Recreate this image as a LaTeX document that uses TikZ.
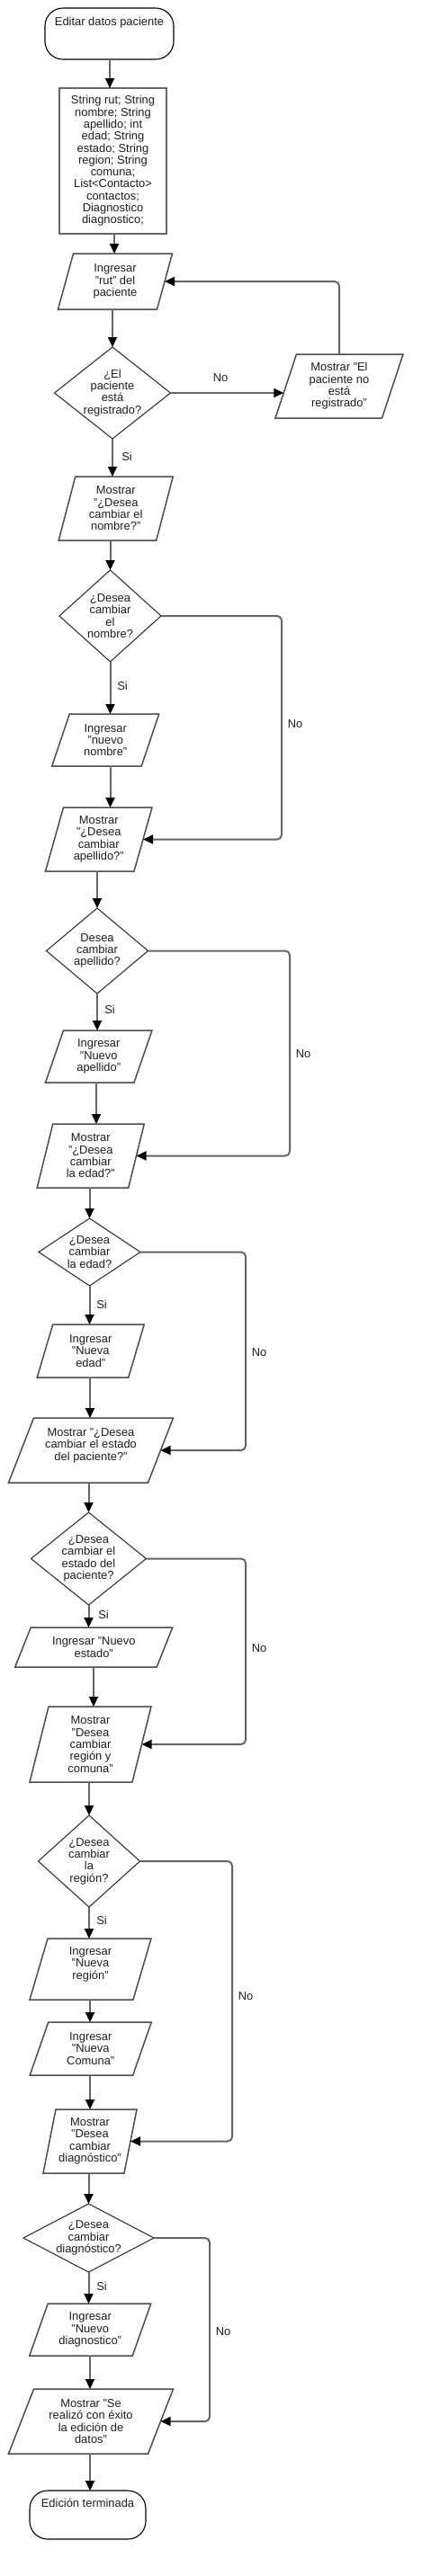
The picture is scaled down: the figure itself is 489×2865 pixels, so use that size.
\documentclass[tikz,border=0pt]{standalone}
\usepackage{fontspec}
\setmainfont{Liberation Sans}
\usetikzlibrary{arrows.meta}
\newcommand\dfont{\fontsize{12.9pt}{13.3pt}\selectfont}
\definecolor{conncol}{HTML}{666666}
\definecolor{pcol}{HTML}{4D4D4D}
\definecolor{txtcol}{HTML}{1E1E1E}
% parallelogram: name, cx, top, bottom, mid-width, slant, text
\newcommand\pgram[7]{%
  \node[ptext, minimum width=#5, minimum height={#4-#3}] (#1) at (#2,{(#3+#4)/2}) {#7};
  \draw[pshape] ({#2-#5/2+#6/2},#3) -- ({#2+#5/2+#6/2},#3) -- ({#2+#5/2-#6/2},#4) -- ({#2-#5/2-#6/2},#4) -- cycle;
}
% decision: name, cx, top, bottom, width, text
\newcommand\dmd[6]{%
  \node[dtext, minimum width=#5, minimum height={#4-#3}] (#1) at (#2,{(#3+#4)/2}) {#6};
  \draw[dshape] (#1.north) -- (#1.east) -- (#1.south) -- (#1.west) -- cycle;
}
\newcommand\vconn[3]{\path (#3,0) coordinate (vx); \draw[conn] (#1.south -| vx) -- (#2.north -| vx);}
\newcommand\noconn[3]{\path (#3,0) coordinate (vx); \draw[conn, rounded corners=5pt] (#1.east) -- (#1.east -| vx) -- (vx |- #2.east) -- (#2.east);}
\tikzset{
  base/.style={font=\dfont, text=txtcol, align=center, inner sep=0pt, outer sep=0pt},
  ptext/.style={base},
  pshape/.style={draw=pcol, line width=1.5pt, line join=miter},
  dtext/.style={base},
  dshape/.style={draw=black!80, line width=1.1pt},
  term/.style={base, draw=black, line width=1.1pt, rounded corners=20pt},
  vbox/.style={base, draw=conncol, line width=2pt},
  conn/.style={draw=conncol, line width=2pt, -{Triangle[length=11pt,width=10pt,color=black]}},
  lbl/.style={font=\dfont, text=txtcol, inner sep=0pt},
}
\begin{document}
\begin{tikzpicture}[x=1pt,y=-1pt]
\useasboundingbox[fill=white] (0,0) rectangle (489,2865);
% nodes
\node[term, minimum width=143, minimum height=57] (start) at (121.5,37.5) {Editar datos paciente\\ ~\\ ~};
\node[vbox, minimum width=119, minimum height=162] (vars) at (125.5,179) {String rut; String\\nombre; String\\apellido; int\\edad; String\\estado; String\\region; String\\comuna;\\List<Contacto>\\contactos;\\Diagnostico\\diagnostico;};
\pgram{inrut}{128}{282}{344}{110}{17}{Ingresar\\"rut" del\\paciente}
\dmd{dreg}{125}{386}{488}{129}{¿El\\paciente\\está\\registrado?}
\pgram{msg}{377}{394}{465}{118.5}{23.5}{Mostrar "El\\paciente no\\está\\registrado"}
\pgram{mnom}{128.75}{530}{601}{108.5}{18.5}{Mostrar\\"¿Desea\\cambiar el\\nombre?"}
\dmd{dnom}{122.5}{634}{736}{113}{¿Desea\\cambiar\\el\\nombre?}
\pgram{innom}{117.25}{794}{852}{99.5}{19.5}{Ingresar\\"nuevo\\nombre"}
\pgram{mape}{109.75}{898}{969}{98.5}{20}{Mostrar\\"¿Desea\\cambiar\\apellido?"}
\dmd{dape}{108}{1010}{1105}{113}{Desea\\cambiar\\apellido?}
\pgram{inape}{109.75}{1146}{1204}{98.5}{20}{Ingresar\\"Nuevo\\apellido"}
\pgram{medad}{100.75}{1250}{1321}{101.5}{17.5}{Mostrar\\"¿Desea\\cambiar\\la edad?"}
\dmd{dedad}{99.5}{1355}{1430}{113}{¿Desea\\cambiar\\la edad?}
\pgram{inedad}{100.75}{1473}{1532}{101.5}{17.5}{Ingresar\\"Nueva\\edad"}
\pgram{mest}{101}{1577}{1649}{155}{28}{Mostrar "¿Desea\\cambiar el estado\\del paciente?"\\ ~}
\dmd{dest}{98.5}{1682}{1785}{128}{¿Desea\\cambiar el\\estado del\\paciente?}
\pgram{inest}{104.25}{1810}{1854}{157.5}{17.5}{Ingresar "Nuevo\\estado"}
\pgram{mreg}{100.5}{1898}{1982}{114}{21}{Mostrar\\"Desea\\cambiar\\región y\\comuna"}
\dmd{dregn}{99}{2019}{2121}{113}{¿Desea\\cambiar\\la\\región?}
\pgram{inregn}{100.5}{2156}{2224}{115}{20}{Ingresar\\"Nueva\\región"\\ ~}
\pgram{incom}{100.75}{2249}{2308}{114.5}{20.5}{Ingresar\\"Nueva\\Comuna"}
\pgram{mdiag}{100}{2346}{2417}{90}{14}{Mostrar\\"Desea\\cambiar\\diagnóstico"}
\dmd{ddiag}{98.5}{2451}{2527}{145}{¿Desea\\cambiar\\diagnóstico?}
\pgram{indiag}{100.25}{2562}{2620}{114.5}{20.5}{Ingresar\\"Nuevo\\diagnostico"}
\pgram{mfin}{101}{2657}{2729}{155}{28}{Mostrar "Se\\realizó con éxito\\la edición de\\datos"}
\node[term, minimum width=129, minimum height=54] (end) at (97.5,2797) {Edición terminada\\ ~\\ ~};
% vertical connectors
\vconn{start}{vars}{122}
\vconn{vars}{inrut}{127}
\vconn{inrut}{dreg}{125}
\vconn{dreg}{mnom}{125}
\vconn{mnom}{dnom}{122.5}
\vconn{dnom}{innom}{122.5}
\vconn{innom}{mape}{122.5}
\vconn{mape}{dape}{108}
\vconn{dape}{inape}{108}
\vconn{inape}{medad}{107}
\vconn{medad}{dedad}{99.5}
\vconn{dedad}{inedad}{99.5}
\vconn{inedad}{mest}{100}
\vconn{mest}{dest}{98.5}
\vconn{dest}{inest}{98.5}
\vconn{inest}{mreg}{104}
\vconn{mreg}{dregn}{99}
\vconn{dregn}{inregn}{99}
\vconn{inregn}{incom}{100}
\vconn{incom}{mdiag}{100}
\vconn{mdiag}{ddiag}{98.5}
\vconn{ddiag}{indiag}{98.5}
\vconn{indiag}{mfin}{100}
\vconn{mfin}{end}{100}
% first decision
\draw[conn, shorten >=2.5pt] (dreg.east) -- (dreg.east -| msg.west);
\draw[conn, rounded corners=5pt] (msg.north) |- (inrut.east);
% No branches
\noconn{dnom}{mape}{313}
\noconn{dape}{medad}{322}
\noconn{dedad}{mest}{273}
\noconn{dest}{mreg}{273}
\noconn{dregn}{mdiag}{258}
\noconn{ddiag}{mfin}{233}
% labels
\node[lbl] (l0) at (245,420) {No};
\node[lbl] (l1) at (328,805) {No};
\node[lbl] (l2) at (337,1172) {No};
\node[lbl] (l3) at (288,1504) {No};
\node[lbl] (l4) at (288,1833) {No};
\node[lbl] (l5) at (273,2220) {No};
\node[lbl] (l6) at (248,2593) {No};
\node[lbl] (s1) at (141,508) {Si};
\node[lbl] (s2) at (136,763) {Si};
\node[lbl] (s3) at (122,1123) {Si};
\node[lbl] (s4) at (113,1451) {Si};
\node[lbl] (s5) at (115,1796) {Si};
\node[lbl] (s6) at (113,2136) {Si};
\node[lbl] (s7) at (113,2543) {Si};
\end{tikzpicture}
\end{document}
